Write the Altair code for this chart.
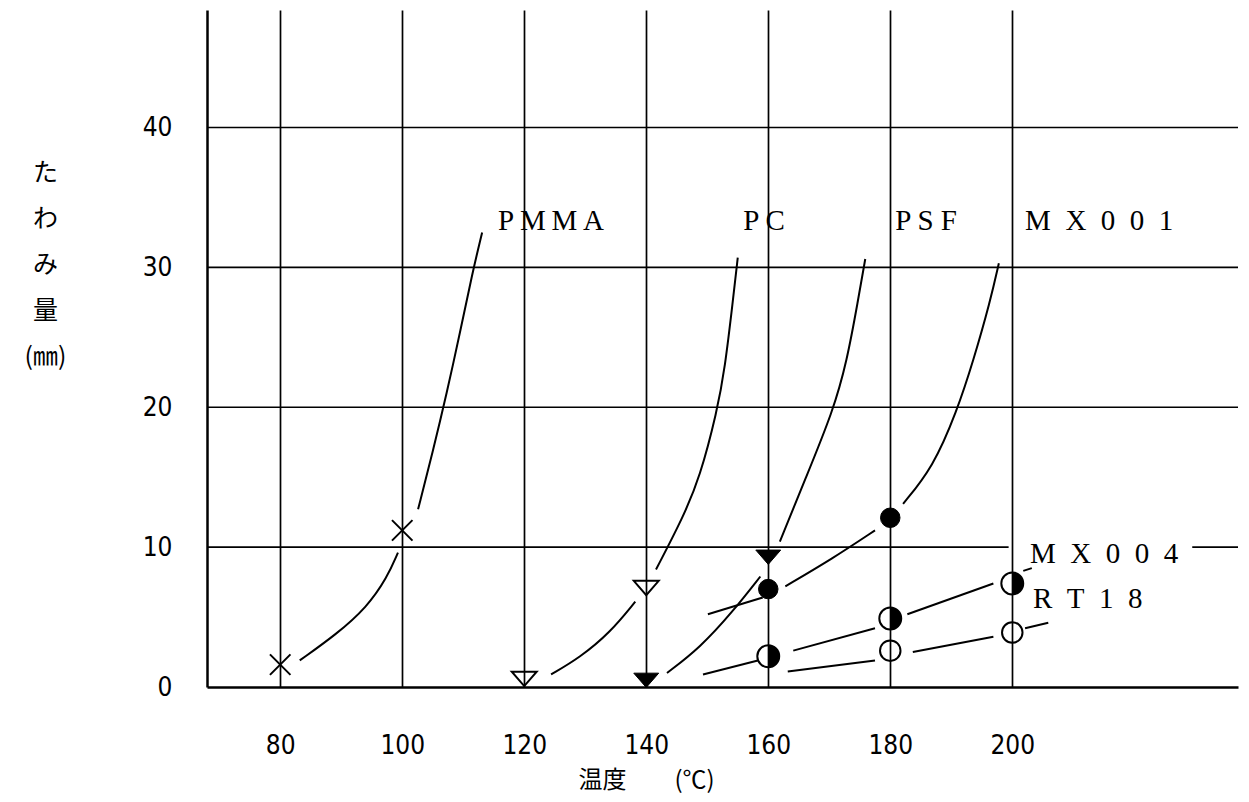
import altair as alt
import pandas as pd

# ---- axes ----
x_ticks = [80, 100, 120, 140, 160, 180, 200]
y_ticks = [0, 10, 20, 30, 40]
x_domain = [68, 237]
y_domain = [0, 48.4]

# ---- measured points (temperature, deflection) ----
pmma_x = [80, 100]
pmma_y = [1.6, 11.2]
pc_x = [120, 140]
pc_y = [0.6, 7.1]
psf_x = [140, 160]
psf_y = [0.5, 9.3]
mx001_x = [160, 180]
mx001_y = [7.0, 12.1]
mx004_x = [160, 180, 200]
mx004_y = [2.2, 4.9, 7.4]
rt18_x = [180, 200]
rt18_y = [2.6, 3.9]

# ---- hand-drawn curve segments ----
curve_pmma_a_x = [83.2, 89.3, 94.2, 97.5, 99.3]
curve_pmma_a_y = [1.9, 3.8, 5.7, 7.8, 9.6]
curve_pmma_b_x = [102.6, 105.0, 107.3, 109.5, 111.5, 113.1]
curve_pmma_b_y = [12.7, 16.8, 21.0, 25.4, 29.6, 32.5]
curve_pc_a_x = [124.4, 129.1, 134.1, 138.2]
curve_pc_a_y = [0.9, 2.1, 3.9, 6.1]
curve_pc_b_x = [141.6, 146.0, 148.8, 151.6, 152.9, 154.2, 155.0]
curve_pc_b_y = [8.4, 12.1, 15.0, 19.7, 22.8, 27.6, 30.7]
curve_psf_a_x = [143.4, 148.8, 154.2, 158.7]
curve_psf_a_y = [1.0, 2.8, 5.4, 7.9]
curve_psf_b_x = [161.9, 166.2, 170.6, 172.9, 174.7, 175.9]
curve_psf_b_y = [10.4, 15.0, 19.7, 23.3, 27.6, 30.6]
curve_mx001_a_x = [150.1, 159.1]
curve_mx001_a_y = [5.2, 6.4]
curve_mx001_b_x = [162.8, 170.6, 177.5]
curve_mx001_b_y = [7.2, 9.2, 11.2]
curve_mx001_c_x = [182.1, 187.0, 190.9, 193.6, 196.4, 197.8]
curve_mx001_c_y = [13.1, 15.7, 19.7, 23.3, 27.6, 30.3]
curve_mx004_a_x = [149.3, 158.3]
curve_mx004_a_y = [0.9, 1.9]
curve_mx004_b_x = [164.1, 177.5]
curve_mx004_b_y = [2.6, 4.2]
curve_mx004_c_x = [182.8, 196.9]
curve_mx004_c_y = [5.2, 7.4]
curve_mx004_d_x = [201.8, 203.2]
curve_mx004_d_y = [8.3, 8.5]
curve_rt18_a_x = [163.2, 177.5]
curve_rt18_a_y = [1.1, 1.9]
curve_rt18_b_x = [183.7, 196.9]
curve_rt18_b_y = [2.5, 3.6]
curve_rt18_c_x = [202.1, 205.9]
curve_rt18_c_y = [4.2, 4.6]

# ---- horizontal grid lines (10 is broken around the MX004 label) ----
hgrid_y = [10, 10, 20, 30, 40]
hgrid_x1 = [68, 229.5, 68, 68, 68]
hgrid_x2 = [199.4, 237, 237, 237, 237]

# ---- series labels ----
EN = "\u2002"
TH = "\u2009"
label_text = ["P" + TH + "M" + TH + "M" + TH + "A", "P C", "P S F",
              EN.join("MX001"), EN.join("MX004"), EN.join("RT18")]
label_x = [115.7, 155.9, 180.8, 202.1, 202.9, 203.4]
label_y = [32.7, 32.7, 32.7, 32.7, 8.9, 5.65]

# ---- build tables ----
curves = [
    ("pmma_a", curve_pmma_a_x, curve_pmma_a_y), ("pmma_b", curve_pmma_b_x, curve_pmma_b_y),
    ("pc_a", curve_pc_a_x, curve_pc_a_y), ("pc_b", curve_pc_b_x, curve_pc_b_y),
    ("psf_a", curve_psf_a_x, curve_psf_a_y), ("psf_b", curve_psf_b_x, curve_psf_b_y),
    ("mx001_a", curve_mx001_a_x, curve_mx001_a_y), ("mx001_b", curve_mx001_b_x, curve_mx001_b_y),
    ("mx001_c", curve_mx001_c_x, curve_mx001_c_y),
    ("mx004_a", curve_mx004_a_x, curve_mx004_a_y), ("mx004_b", curve_mx004_b_x, curve_mx004_b_y),
    ("mx004_c", curve_mx004_c_x, curve_mx004_c_y), ("mx004_d", curve_mx004_d_x, curve_mx004_d_y),
    ("rt18_a", curve_rt18_a_x, curve_rt18_a_y), ("rt18_b", curve_rt18_b_x, curve_rt18_b_y),
    ("rt18_c", curve_rt18_c_x, curve_rt18_c_y),
]
curve_rows = []
for seg, xs_, ys_ in curves:
    for i, (xv, yv) in enumerate(zip(xs_, ys_)):
        curve_rows.append({"seg": seg, "order": i, "x": xv, "y": yv})
curve_df = pd.DataFrame(curve_rows)

marker_sets = [("PMMA", pmma_x, pmma_y), ("PC", pc_x, pc_y), ("PSF", psf_x, psf_y),
               ("MX001", mx001_x, mx001_y), ("MX004", mx004_x, mx004_y), ("RT18", rt18_x, rt18_y)]
marker_rows = []
for s, xs_, ys_ in marker_sets:
    for xv, yv in zip(xs_, ys_):
        marker_rows.append({"series": s, "x": xv, "y": yv})
marker_df = pd.DataFrame(marker_rows)

hgrid_df = pd.DataFrame({"y": hgrid_y, "x": hgrid_x1, "x2": hgrid_x2})
label_df = pd.DataFrame({"text": label_text, "x": label_x, "y": label_y})

xs = alt.Scale(domain=x_domain, nice=False, zero=False)
ys = alt.Scale(domain=y_domain, nice=False, zero=False)

NUM_FONT = "Liberation Sans Narrow, DejaVu Sans Condensed, Liberation Sans, sans-serif"
JP_FONT = "Noto Sans CJK JP"

x_axis = alt.Axis(
    values=x_ticks, grid=True, gridColor="black", gridWidth=1.7, gridOpacity=1,
    domain=True, domainColor="black", domainWidth=2.5, ticks=False, tickSize=0,
    labelFont=NUM_FONT, labelFontSize=26, labelColor="black", labelPadding=45,
    title="温度　　(℃)", titleFont=JP_FONT, titleFontSize=24, titleFontWeight="normal",
    titleColor="black", titleX=439, titleY=93, titleAlign="center", titleBaseline="middle",
)
y_axis = alt.Axis(
    values=y_ticks, grid=False, domain=True, domainColor="black", domainWidth=2.5,
    ticks=False, tickSize=0, labelFont=NUM_FONT, labelFontSize=26, labelColor="black",
    labelPadding=35, labelBaseline="middle",
    title=["た", "わ", "み", "量", "(㎜)"], titleFont=JP_FONT, titleFontSize=25,
    titleFontWeight="normal", titleColor="black", titleAngle=0, titleX=-162, titleY=150,
    titleAlign="center", titleBaseline="top", titleLineHeight=46,
)

X = alt.X("x:Q", scale=xs, axis=x_axis)
Y = alt.Y("y:Q", scale=ys, axis=y_axis)

grid_layer = alt.Chart(hgrid_df).mark_rule(color="black", strokeWidth=1.7).encode(
    x=X, x2="x2:Q", y=Y,
)

curve_layer = alt.Chart(curve_df).mark_line(color="black", strokeWidth=2, interpolate="basis").encode(
    x=X, y=Y, detail="seg:N", order="order:Q",
)

XMARK = "M-1,-1L1,1M-1,1L1,-1"
TRI = "M-1,-0.55L1,-0.55L0,0.6Z"
HALF_R = "M0,-1A1,1,0,0,1,0,1Z"


def markers(series, shape, size, filled, stroke=True):
    kw = dict(shape=shape, size=size, filled=filled, opacity=1)
    if filled:
        kw.update(fill="black")
        if stroke:
            kw.update(stroke="black", strokeWidth=1)
    else:
        kw.update(stroke="black", strokeWidth=2, fill="transparent")
    return alt.Chart(marker_df).transform_filter(
        alt.datum.series == series
    ).mark_point(**kw).encode(x=X, y=Y)


pmma_pts = markers("PMMA", XMARK, 420, False)
pc_pts = markers("PC", TRI, 620, False)
psf_pts = markers("PSF", TRI, 620, True)
mx001_pts = markers("MX001", "circle", 380, True)
mx004_open = markers("MX004", "circle", 480, False)
mx004_half = markers("MX004", HALF_R, 480, True, stroke=False)
rt18_pts = markers("RT18", "circle", 420, False)

label_layer = alt.Chart(label_df).mark_text(
    font="Liberation Serif", fontSize=29, color="black", align="left", baseline="alphabetic"
).encode(x=X, y=Y, text="text:N")

chart = alt.layer(
    grid_layer, curve_layer, pmma_pts, pc_pts, psf_pts, mx001_pts,
    mx004_open, mx004_half, rt18_pts, label_layer,
).properties(
    width=1031, height=677,
    autosize=alt.AutoSizeParams(type="none"),
    padding={"left": 199, "top": 2, "right": 3, "bottom": 107},
    background="white",
).configure_view(stroke=None)

chart.save("out.html", embed_options={"renderer": "svg", "actions": False})
